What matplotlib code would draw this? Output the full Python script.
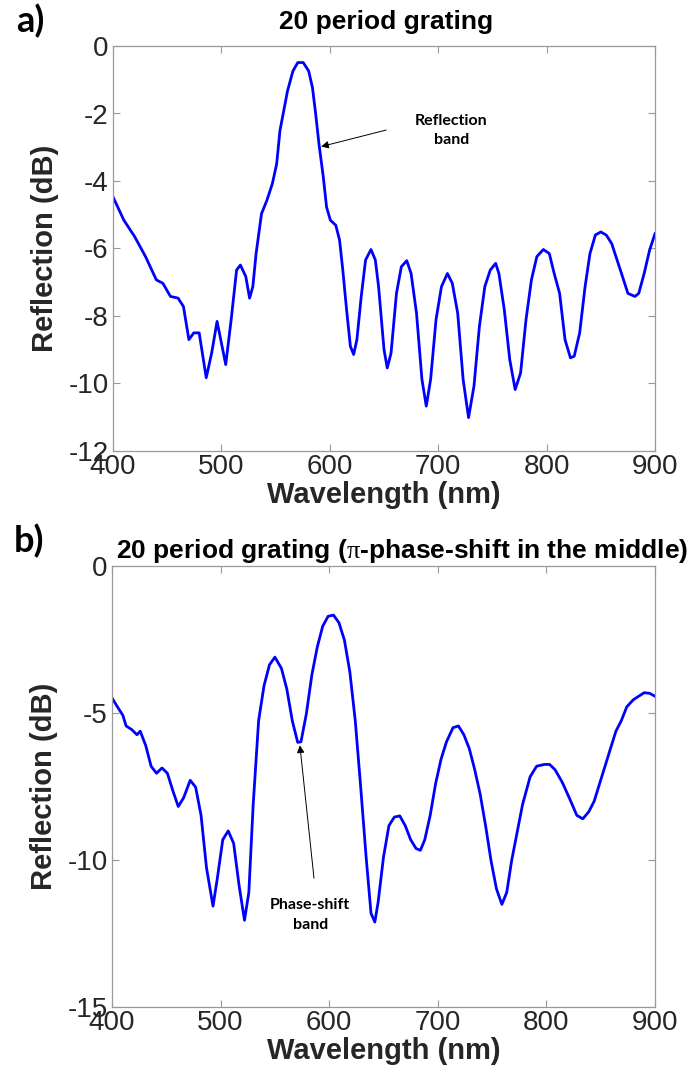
import matplotlib
matplotlib.use("Agg")
import matplotlib.pyplot as plt

# ---------------- data ----------------
wl_a = [400, 410, 420, 430, 440, 446, 453, 460, 465, 470, 474.5, 479.5, 486, 491, 496,
        504, 509, 514, 517.5, 522.5, 526, 529, 532, 537, 542, 547, 551, 554, 557.5, 561,
        566, 570.5, 575.5, 580.5, 584, 587, 590, 594, 597, 600.5, 605.5, 609, 612, 615.5,
        619, 622, 625, 629, 633, 638, 642, 645, 650, 653, 656.5, 661.5, 666, 671, 675,
        680, 685, 689, 693, 698, 703, 708.5, 713, 718, 723, 728, 733, 738, 743, 748, 753,
        756, 761, 766, 771, 776, 781, 786, 791, 797, 802.5, 807, 812, 817, 822, 825.5,
        830.5, 835.5, 840, 845, 850, 855, 860, 865, 870, 875, 881.5, 885, 890, 895, 900]
refl_a = [-4.47, -5.16, -5.65, -6.24, -6.93, -7.03, -7.42, -7.47, -7.72, -8.70, -8.50,
          -8.50, -9.83, -9.10, -8.16, -9.44, -8.11, -6.64, -6.49, -6.83, -7.47, -7.13,
          -6.15, -4.97, -4.57, -4.08, -3.49, -2.51, -1.92, -1.33, -0.74, -0.49, -0.49,
          -0.74, -1.23, -2.02, -2.90, -3.88, -4.77, -5.16, -5.31, -5.75, -6.64, -7.82,
          -8.90, -9.14, -8.70, -7.42, -6.34, -6.03, -6.34, -7.13, -8.99, -9.54, -9.10,
          -7.33, -6.54, -6.36, -6.74, -7.92, -9.88, -10.67, -9.88, -8.11, -7.13, -6.74,
          -7.03, -7.92, -9.88, -11.01, -10.08, -8.31, -7.13, -6.64, -6.44, -6.74, -7.82,
          -9.29, -10.18, -9.69, -8.11, -6.93, -6.24, -6.03, -6.15, -6.74, -7.33, -8.70,
          -9.24, -9.19, -8.50, -7.13, -6.15, -5.60, -5.51, -5.60, -5.85, -6.34, -6.83,
          -7.33, -7.42, -7.33, -6.74, -6.05, -5.56]

wl_b = [400, 405, 410, 413, 418, 423, 426, 431, 436, 441, 446, 451, 456, 461, 466, 472,
        477, 482, 487, 493, 497, 502, 507, 512, 517, 522, 526, 530, 535, 540, 545, 550,
        556, 561, 566, 571, 574, 579, 584, 589, 594, 599, 604, 609, 614, 619, 624, 629,
        634, 638.5, 642, 645, 650, 655, 660, 665, 670, 675, 680, 684, 688, 693, 698, 703,
        708, 714, 719, 724, 729, 734, 739, 744, 749, 754, 759, 763.5, 768, 773, 778, 785,
        791, 798, 803, 808, 814.5, 821, 828, 833.5, 839, 844, 849, 854, 859, 864, 869,
        874, 880, 885, 890, 895, 900]
refl_b = [-4.49, -4.79, -5.08, -5.44, -5.56, -5.74, -5.62, -6.10, -6.81, -7.05, -6.87,
          -7.05, -7.64, -8.18, -7.88, -7.29, -7.52, -8.48, -10.26, -11.57, -10.62, -9.31,
          -9.01, -9.43, -10.86, -12.05, -11.10, -8.12, -5.26, -4.07, -3.36, -3.10, -3.48,
          -4.19, -5.26, -6.00, -5.98, -5.02, -3.71, -2.76, -2.05, -1.71, -1.67, -1.93,
          -2.52, -3.60, -5.26, -7.52, -9.90, -11.81, -12.11, -11.45, -9.90, -8.83, -8.54,
          -8.50, -8.83, -9.31, -9.61, -9.67, -9.31, -8.48, -7.40, -6.57, -5.98, -5.50,
          -5.44, -5.74, -6.21, -6.93, -7.76, -8.83, -10.02, -10.98, -11.51, -11.10,
          -10.02, -9.07, -8.12, -7.17, -6.81, -6.75, -6.75, -6.93, -7.35, -7.88, -8.48,
          -8.60, -8.36, -8.00, -7.40, -6.81, -6.21, -5.62, -5.26, -4.79, -4.55, -4.43,
          -4.31, -4.33, -4.43]

xticks = [400, 500, 600, 700, 800, 900]
yticks_a = [0, -2, -4, -6, -8, -10, -12]
yticks_b = [0, -5, -10, -15]

title_a = "20 period grating"
title_b = r"20 period grating ($\mathrm{\pi}$-phase-shift in the middle)"

# ---------------- style ----------------
plt.rcParams['font.family'] = ['Liberation Sans', 'DejaVu Sans']
plt.rcParams['mathtext.fontset'] = 'custom'
plt.rcParams['mathtext.rm'] = 'Liberation Serif'
plt.rcParams['mathtext.it'] = 'Liberation Serif:italic'
txt = '#262626'

fig = plt.figure(figsize=(6.96, 10.76), dpi=100)
W, H = 696.0, 1076.0

def make_ax(l, r, t, b):
    return fig.add_axes([l / W, 1 - b / H, (r - l) / W, (b - t) / H])

ax_a = make_ax(113, 655, 46, 451)
ax_b = make_ax(112, 655, 566, 1007)

def style(ax, yticks, ylim):
    ax.set_xlim(400, 900)
    ax.set_ylim(*ylim)
    ax.set_xticks(xticks)
    ax.set_yticks(yticks)
    ax.set_yticklabels([str(v) for v in yticks])
    for s in ax.spines.values():
        s.set_color('#9a9a9a')
        s.set_linewidth(0.9)
    ax.tick_params(direction='in', length=5, width=0.8, color='#9a9a9a',
                   top=True, right=True, labelsize=20, labelcolor=txt)
    ax.tick_params(axis='x', pad=2)
    ax.tick_params(axis='y', pad=3)
    ax.set_xlabel("Wavelength (nm)", fontsize=21, fontweight='bold', color=txt, labelpad=1)
    ax.set_ylabel("Reflection (dB)", fontsize=21, fontweight='bold', color=txt, labelpad=7)

ax_a.plot(wl_a, refl_a, color='#0000ff', lw=2)
style(ax_a, yticks_a, (-12, 0))
ax_b.plot(wl_b, refl_b, color='#0000ff', lw=2)
style(ax_b, yticks_b, (-15, 0))

fig.text(386 / W, 1 - 22 / H, title_a, fontsize=19, fontweight='bold',
         ha='center', va='center', color='black')
fig.text(402 / W, 1 - 551 / H, title_b, fontsize=19, fontweight='bold',
         ha='center', va='center', color='black')

arrow = dict(arrowstyle='-|>', color='black', lw=0.7, mutation_scale=11, shrinkA=0, shrinkB=0)
ax_a.annotate("Reflection\nband", xy=(592, -2.98), xytext=(712, -2.5),
              ha='center', va='center', fontsize=11.5, fontweight='bold',
              family=['Lato', 'DejaVu Sans'], linespacing=1.5)
ax_a.annotate("", xy=(592, -2.98), xytext=(652, -2.49), arrowprops=arrow)
ax_b.annotate("Phase-shift\nband", xy=(573, -6.1), xytext=(582.5, -11.87),
              ha='center', va='center', fontsize=11.5, fontweight='bold',
              family=['Lato', 'DejaVu Sans'], linespacing=1.5)
ax_b.annotate("", xy=(573, -6.1), xytext=(586, -10.62), arrowprops=arrow)

fig.text(30 / W, 1 - 21 / H, "a)", fontsize=26, fontweight='bold',
         family=['Lato', 'DejaVu Sans'], ha='center', va='center')
fig.text(29 / W, 1 - 541 / H, "b)", fontsize=26, fontweight='bold',
         family=['Lato', 'DejaVu Sans'], ha='center', va='center')

fig.savefig("out.png", dpi=100)
